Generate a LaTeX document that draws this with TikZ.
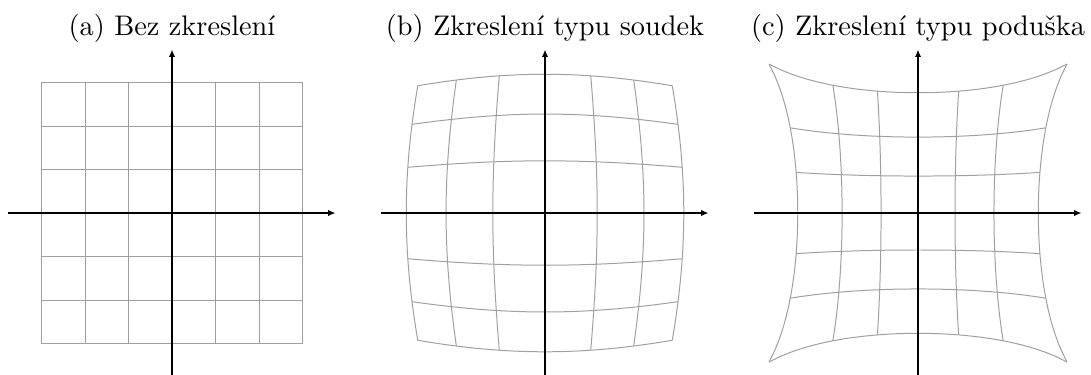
\documentclass[tikz,border=0pt]{standalone}
\usepackage{tikz}
\usetikzlibrary{arrows.meta}

% one Newton step for s in  alpha*s + beta*r2*s^3 = 1
\newcommand\dsstep[3]{\pgfmathsetmacro\dsS{\dsS-((#2)*\dsS+(#3)*(#1)*\dsS^3-1)/((#2)+3*(#3)*(#1)*\dsS^2)}}
\pgfmathdeclarefunction{dscale}{3}{%
  \pgfmathsetmacro\dsS{1/(#2)}%
  \dsstep{#1}{#2}{#3}\dsstep{#1}{#2}{#3}\dsstep{#1}{#2}{#3}%
  \dsstep{#1}{#2}{#3}\dsstep{#1}{#2}{#3}\dsstep{#1}{#2}{#3}%
  \pgfmathparse{\dsS}%
}

\begin{document}
\begin{tikzpicture}[
        x=0.54cm, y=0.54cm,
        axis/.style={-{Latex[length=2.6pt,width=2.2pt]}, line width=0.6pt},
        gridline/.style={gray!75, line width=0.35pt},
        title/.style={anchor=base}
    ]
    \useasboundingbox (-3.954,-3.701) rectangle (21.126,4.897);

    % (a)
    \node[title] (ta) at (0,4.08) {(a) Bez zkreslení};
    \draw[gridline, step=0.54cm] (-3,-3) grid (3,3);
    \draw[axis] (-3.76,0) -- (3.76,0);
    \draw[axis] (0,-3.76) -- (0,3.76);

    % (b)
    \node[title] (tb) at (8.575,4.08) {(b) Zkreslení typu soudek};
    \begin{scope}[shift={(8.575,0)}]
      \def\al{0.8157}\def\be{0.01227}
      \foreach \gc in {-3,-2,-1,1,2,3} {
        \draw[gridline] plot[domain=-3:3, samples=49, variable=\gt]
          ({(\gc)*dscale((\gc)*(\gc)+(\gt)*(\gt),\al,\be)}, {(\gt)*dscale((\gc)*(\gc)+(\gt)*(\gt),\al,\be)});
        \draw[gridline] plot[domain=-3:3, samples=49, variable=\gt]
          ({(\gt)*dscale((\gc)*(\gc)+(\gt)*(\gt),\al,\be)}, {(\gc)*dscale((\gc)*(\gc)+(\gt)*(\gt),\al,\be)});
      }
      \draw[axis] (-3.76,0) -- (3.76,0);
      \draw[axis] (0,-3.76) -- (0,3.76);
    \end{scope}

    % (c)
    \node[title] (tc) at (17.15,4.08) {(c) Zkreslení typu poduška};
    \begin{scope}[shift={(17.15,0)}]
      \def\al{1.186}\def\be{-0.01321}
      \foreach \gc in {-3,-2,-1,1,2,3} {
        \draw[gridline] plot[domain=-3:3, samples=49, variable=\gt]
          ({(\gc)*dscale((\gc)*(\gc)+(\gt)*(\gt),\al,\be)}, {(\gt)*dscale((\gc)*(\gc)+(\gt)*(\gt),\al,\be)});
        \draw[gridline] plot[domain=-3:3, samples=49, variable=\gt]
          ({(\gt)*dscale((\gc)*(\gc)+(\gt)*(\gt),\al,\be)}, {(\gc)*dscale((\gc)*(\gc)+(\gt)*(\gt),\al,\be)});
      }
      \draw[axis] (-3.76,0) -- (3.76,0);
      \draw[axis] (0,-3.76) -- (0,3.76);
    \end{scope}

\end{tikzpicture}
\end{document}
